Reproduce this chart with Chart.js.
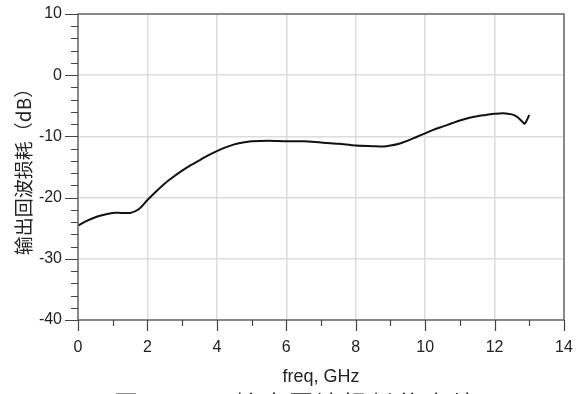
<!DOCTYPE html>
<html>
<head>
<meta charset="utf-8">
<script src="https://cdn.jsdelivr.net/npm/chart.js@4/dist/chart.umd.min.js"></script>
<style>
  body { margin: 0; background: #fff; overflow: hidden; }
  #wrap { position: relative; width: 579px; height: 394px; }
  #caption { position: absolute; left: 114px; top: 385px; font: 24px "Noto Sans CJK SC", sans-serif; color: #222; white-space: nowrap; letter-spacing: 3px; }
</style>
</head>
<body>
<div id="wrap">
  <canvas id="myChart" width="579" height="394"></canvas>
  <div id="caption">图 3.10　输出回波损耗仿真结果</div>
</div>
<script>
// freq in GHz, output return loss in dB
var freq = [0, 0.25, 0.5, 0.75, 1.0, 1.25, 1.5, 1.75, 2.0, 2.25, 2.5, 2.75, 3.0, 3.25, 3.5, 3.75,
  4.0, 4.25, 4.5, 4.75, 5.0, 5.5, 6.0, 6.5, 7.0, 7.5, 8.0, 8.5, 8.8, 9.0, 9.25, 9.5, 9.75,
  10.0, 10.25, 10.5, 10.75, 11.0, 11.25, 11.5, 11.75, 12.0, 12.25, 12.5, 12.65, 12.8, 12.87, 13.0];
var loss = [-24.6, -23.8, -23.2, -22.8, -22.5, -22.5, -22.5, -21.9, -20.4, -19.0, -17.7, -16.6, -15.6, -14.7, -13.9, -13.1,
  -12.4, -11.8, -11.3, -11.0, -10.8, -10.7, -10.8, -10.8, -11.0, -11.2, -11.5, -11.6, -11.65, -11.5, -11.2, -10.7, -10.1,
  -9.5, -8.9, -8.4, -7.9, -7.4, -7.0, -6.7, -6.5, -6.3, -6.2, -6.4, -6.8, -7.6, -7.9, -6.5];
var yTicks = [-40, -30, -20, -10, 0, 10];
var xTicks = [0, 2, 4, 6, 8, 10, 12, 14];

var points = [];
for (var i = 0; i < freq.length; i++) {
  points.push({x: freq[i], y: loss[i]});
}

// frame + major/minor tick marks drawn outside the plot box
var frameTicks = {
  id: 'frameTicks',
  afterDraw: function(chart) {
    var c = chart.ctx, a = chart.chartArea;
    var xs = chart.scales.x, ys = chart.scales.y;
    c.save();
    c.strokeStyle = '#6b6b6b';
    c.lineWidth = 1.5;
    c.strokeRect(a.left, a.top, a.right - a.left, a.bottom - a.top);
    c.strokeStyle = '#444';
    c.lineWidth = 1.2;
    c.beginPath();
    for (var v = -40; v <= 10; v += 2) {
      var py = Math.round(ys.getPixelForValue(v)) + 0.5;
      var len = (v % 10 === 0) ? 13 : 7;
      c.moveTo(a.left - len, py);
      c.lineTo(a.left, py);
    }
    for (var f = 0; f <= 14; f += 1) {
      var px = Math.round(xs.getPixelForValue(f)) + 0.5;
      var l2 = (f % 2 === 0) ? 11 : 6;
      c.moveTo(px, a.bottom);
      c.lineTo(px, a.bottom + l2);
    }
    c.stroke();
    c.restore();
  }
};

var ctx = document.getElementById("myChart");
var myChart = new Chart(ctx, {
  type: 'line',
  data: {
    datasets: [{
      data: points,
      borderColor: '#111',
      borderWidth: 2,
      pointRadius: 0,
      tension: 0.3,
      fill: false
    }]
  },
  options: {
    responsive: false,
    animation: false,
    layout: { padding: { top: 14, right: 15, left: 0, bottom: 0 } },
    plugins: { legend: { display: false }, tooltip: { enabled: false } },
    scales: {
      x: {
        type: 'linear',
        min: 0, max: 14,
        afterBuildTicks: function(s) { s.ticks = xTicks.map(function(v) { return {value: v}; }); },
        afterFit: function(s) { s.height = 74; s.paddingLeft = 0; s.paddingRight = 0; },
        grid: { color: '#dcdcdc', lineWidth: 1.5, drawTicks: false },
        border: { display: false },
        ticks: { padding: 18, color: '#222', font: { family: 'Liberation Sans', size: 16 }, maxRotation: 0 },
        title: { display: true, text: 'freq, GHz', color: '#222', font: { family: 'Liberation Sans', size: 18 }, padding: { top: 4, bottom: 6 } }
      },
      y: {
        min: -40, max: 10,
        afterBuildTicks: function(s) { s.ticks = yTicks.map(function(v) { return {value: v}; }); },
        afterFit: function(s) { s.width = 78; s.paddingTop = 0; s.paddingBottom = 0; },
        grid: { color: '#dcdcdc', lineWidth: 1.5, drawTicks: false },
        border: { display: false },
        ticks: { padding: 16, color: '#222', font: { family: 'Liberation Sans', size: 16 } },
        title: { display: true, text: '输出回波损耗（dB）', color: '#222', font: { family: 'Noto Sans CJK SC', size: 19 }, padding: { top: 12, bottom: 4 } }
      }
    }
  },
  plugins: [frameTicks]
});
</script>
</body>
</html>
